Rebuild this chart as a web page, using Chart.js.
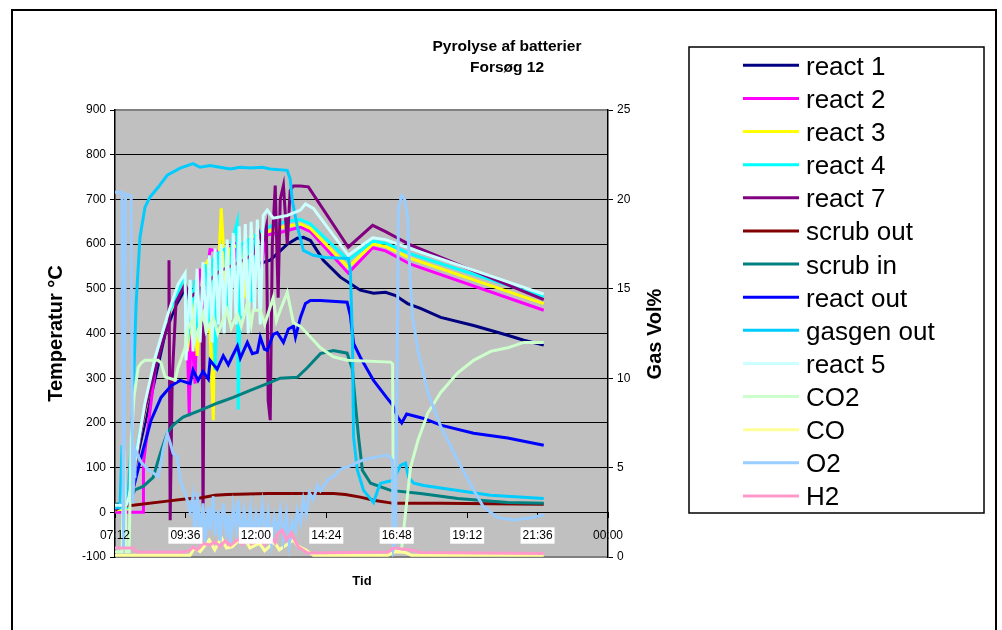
<!DOCTYPE html>
<html>
<head>
<meta charset="utf-8">
<script src="https://cdn.jsdelivr.net/npm/chart.js@4.4.1/dist/chart.umd.min.js"></script>
<style>
  html, body { margin: 0; padding: 0; background: #fff; }
</style>
</head>
<body>
<canvas id="chart" width="1002" height="630"></canvas>
<script>
// time in hours of the day (7.2 = 07:12), temperatures in °C, gases in vol%
const tidTicks = [7.2, 9.6, 12, 14.4, 16.8, 19.2, 21.6, 24];
const tidLabels = ['07:12', '09:36', '12:00', '14:24', '16:48', '19:12', '21:36', '00:00'];

const react1 = [[7.2,15],[7.61,20],[7.81,80],[8.22,200],[8.57,300],[8.91,400],[9.25,460],[9.59,500],[9.76,470],[10.1,510],[10.2,519],[10.44,500],[10.61,440],[10.78,530],[11.02,526],[11.3,540],[11.71,548],[11.81,500],[11.98,545],[12.15,557],[12.49,564],[12.83,585],[13.07,600],[13.41,613],[13.62,615],[13.86,608],[14.3,564],[14.88,526],[15.56,497],[16.01,490],[16.42,492],[16.76,485],[17.17,467],[17.61,456],[18.3,436],[19.42,418],[20.58,396],[21.13,385],[21.81,374]];
const react2 = [[7.2,0],[8.16,0],[8.17,110],[8.57,320],[8.98,430],[9.59,525],[9.66,400],[9.73,215],[9.79,420],[9.93,288],[10.0,480],[10.1,545],[10.27,420],[10.38,560],[10.44,588],[10.85,582],[10.92,450],[11.06,590],[11.3,600],[11.47,480],[11.64,605],[11.98,615],[12.15,520],[12.32,620],[12.83,626],[13.52,638],[13.86,628],[15.15,535],[15.98,592],[16.42,585],[17.27,555],[21.81,452]];
const react3 = [[7.2,5],[7.64,8],[8.05,170],[8.57,335],[9.0,435],[9.59,528],[9.66,360],[9.86,470],[10.0,350],[10.2,545],[10.34,560],[10.44,400],[10.55,206],[10.61,560],[10.75,580],[10.82,680],[10.89,600],[10.99,450],[11.13,590],[11.47,600],[11.64,480],[11.81,615],[12.15,620],[12.49,630],[13.0,640],[13.52,645],[13.86,635],[15.15,548],[15.98,600],[16.42,595],[17.27,568],[21.81,467]];
const react4 = [[7.2,10],[7.61,10],[8.05,180],[8.57,340],[9.01,440],[9.59,530],[9.66,380],[9.93,520],[10.03,400],[10.27,555],[10.44,420],[10.55,570],[10.61,318],[10.72,580],[10.96,590],[11.06,450],[11.19,604],[11.37,650],[11.4,230],[11.5,600],[11.74,610],[11.84,470],[11.98,620],[12.22,630],[12.49,640],[13.0,650],[13.52,655],[13.86,645],[15.15,564],[15.98,607],[16.42,602],[17.27,578],[21.81,482]];
const react7 = [[7.2,5],[7.61,20],[7.81,80],[8.22,230],[8.57,320],[8.91,400],[9.01,420],[9.04,564],[9.08,-18],[9.15,300],[9.28,470],[9.59,510],[9.76,480],[10.1,500],[10.17,445],[10.2,-18],[10.24,430],[10.44,520],[10.78,540],[11.47,560],[11.98,580],[12.08,631],[12.22,600],[12.36,640],[12.42,250],[12.49,206],[12.56,600],[12.66,731],[12.76,480],[12.83,700],[12.94,731],[13.07,600],[13.17,720],[13.28,730],[13.52,730],[13.79,728],[15.15,593],[15.98,642],[16.42,628],[17.27,598],[21.81,476]];
const scrubOut = [[7.2,12],[7.81,16],[8.98,25],[9.59,30],[10.1,32],[10.61,38],[11.02,40],[12.39,42],[13.52,42],[14.64,42],[15.05,40],[15.56,34],[16.01,27],[16.69,20],[18.3,20],[21.81,18]];
const scrubIn = [[7.2,18],[7.64,20],[7.88,50],[8.16,58],[8.5,78],[8.67,116],[8.81,145],[8.98,177],[9.18,195],[9.52,213],[10.1,228],[10.68,244],[11.23,257],[11.81,273],[12.39,288],[12.83,300],[13.41,302],[13.76,324],[14.2,355],[14.64,362],[15.11,356],[15.29,320],[15.39,244],[15.5,168],[15.63,94],[15.91,65],[16.59,49],[17.61,42],[18.88,31],[20.58,22],[21.81,20]];
const reactOut = [[7.2,15],[7.64,20],[7.81,50],[8.09,123],[8.43,206],[8.77,257],[9.11,283],[9.42,295],[9.76,288],[9.86,318],[10.03,295],[10.2,315],[10.38,298],[10.44,340],[10.68,320],[10.89,350],[11.06,330],[11.19,348],[11.37,372],[11.47,345],[11.71,380],[11.88,355],[12.05,358],[12.15,392],[12.29,365],[12.39,362],[12.59,398],[12.73,402],[12.94,380],[13.11,410],[13.28,416],[13.35,392],[13.52,436],[13.69,467],[13.86,474],[14.2,474],[15.11,470],[15.22,440],[15.33,378],[15.56,347],[16.01,295],[16.42,260],[16.66,240],[16.83,213],[16.97,200],[17.14,220],[17.72,210],[18.3,195],[19.42,177],[20.58,166],[21.81,150]];
const gasgenOut = [[7.2,10],[7.37,10],[7.44,150],[7.51,20],[7.64,30],[7.75,150],[7.81,244],[7.92,467],[8.05,615],[8.22,682],[8.39,705],[8.67,727],[8.98,754],[9.42,770],[9.86,780],[10.1,772],[10.44,776],[10.78,772],[11.13,768],[11.47,772],[11.81,770],[12.22,772],[12.49,768],[13.07,765],[13.17,745],[13.24,698],[13.41,640],[13.62,586],[13.96,575],[14.37,570],[15.15,568],[15.22,541],[15.29,391],[15.33,168],[15.46,94],[15.67,49],[16.01,22],[16.15,49],[16.25,65],[16.69,72],[16.93,105],[17.1,110],[17.21,78],[17.38,65],[17.72,60],[18.88,49],[20.0,38],[21.81,31]];
const react5 = [[7.2,16],[7.58,16],[7.68,35],[7.88,110],[8.22,244],[8.57,347],[9.01,445],[9.35,510],[9.59,535],[9.62,340],[9.76,520],[9.86,360],[10.0,545],[10.1,380],[10.2,560],[10.31,400],[10.41,575],[10.51,380],[10.61,590],[10.72,420],[10.82,600],[10.92,400],[11.02,610],[11.13,430],[11.23,625],[11.33,420],[11.43,640],[11.54,440],[11.64,645],[11.74,400],[11.84,650],[11.95,450],[12.05,655],[12.15,420],[12.25,664],[12.39,676],[12.59,658],[13.07,664],[13.52,676],[13.69,690],[13.96,680],[15.15,575],[15.98,614],[16.42,610],[17.27,590],[21.81,488]];
const co2 = [[7.2,0.3],[7.44,0.3],[7.51,6.0],[7.58,0.3],[7.68,0.3],[7.75,6.5],[7.85,9.0],[7.99,10.6],[8.09,10.85],[8.22,11.0],[8.67,11.0],[8.77,10.85],[8.91,10.07],[9.25,9.9],[9.35,10.6],[9.59,11.7],[9.66,12.7],[9.86,13.3],[9.95,12.2],[10.2,13.6],[10.31,12.6],[10.55,13.4],[10.7,12.5],[11.02,13.8],[11.16,12.8],[11.37,13.6],[11.5,12.9],[11.71,14.2],[11.84,13.0],[11.91,13.8],[12.15,13.8],[12.3,13.0],[12.59,14.5],[12.7,13.2],[12.83,13.8],[13.07,14.8],[13.28,13.1],[13.52,12.9],[13.86,12.3],[14.2,11.7],[14.64,11.2],[15.11,11.0],[16.59,10.9],[16.66,10.8],[16.69,0.5],[16.83,0.3],[16.97,0.5],[17.07,2.0],[17.17,3.5],[17.27,5.0],[17.52,6.5],[17.86,8.05],[18.3,9.2],[18.88,10.3],[19.42,11.0],[20.0,11.5],[20.58,11.7],[21.13,12.0],[21.81,12.0]];
const co = [[7.2,0.1],[9.76,0.1],[9.9,0.5],[10.1,0.3],[10.41,0.95],[10.6,0.4],[10.82,1.1],[11.0,0.5],[11.19,0.56],[11.4,0.9],[11.6,1.06],[11.8,0.5],[12.12,0.78],[12.3,0.35],[12.63,0.84],[12.8,0.4],[13.28,0.95],[13.45,0.6],[13.69,0.4],[13.96,0.1],[16.5,0.1],[16.76,0.3],[17.1,0.25],[17.3,0.1],[21.81,0.1]];
const o2 = [[7.2,20.4],[7.44,20.4],[7.49,0.5],[7.56,20.3],[7.75,20.2],[7.8,3.0],[7.85,4.5],[7.88,6.0],[8.09,5.3],[8.33,4.9],[8.5,4.7],[8.67,4.5],[8.77,5.3],[8.84,6.0],[8.98,6.9],[9.08,6.4],[9.18,5.8],[9.32,5.6],[9.42,4.3],[9.66,3.2],[9.76,2.5],[9.86,3.4],[9.93,1.0],[10.0,3.6],[10.1,1.5],[10.2,3.0],[10.27,0.8],[10.38,2.8],[10.44,1.5],[10.55,3.4],[10.61,1.2],[10.72,2.6],[10.78,0.9],[10.89,3.0],[10.99,1.4],[11.06,2.4],[11.13,0.8],[11.23,2.8],[11.33,1.6],[11.4,3.2],[11.5,1.0],[11.6,2.6],[11.71,1.3],[11.81,2.7],[11.91,0.9],[12.01,2.4],[12.12,1.5],[12.22,2.9],[12.32,1.2],[12.42,2.5],[12.53,0.8],[12.63,2.2],[12.73,1.3],[12.83,2.6],[12.94,1.0],[13.04,2.4],[13.14,0.7],[13.24,2.0],[13.35,1.5],[13.41,2.6],[13.52,1.9],[13.62,3.2],[13.72,2.4],[13.82,3.6],[13.96,3.2],[14.1,4.0],[14.2,3.7],[14.44,4.3],[14.64,4.5],[14.88,4.9],[15.22,5.1],[15.46,5.3],[15.8,5.5],[16.15,5.6],[16.49,5.7],[16.66,5.4],[16.69,0.5],[16.76,1.0],[16.86,19.5],[16.97,20.2],[17.07,20.0],[17.17,19.0],[17.21,17.2],[17.27,15.3],[17.34,13.4],[17.52,11.6],[17.86,9.2],[18.3,7.3],[18.88,5.4],[19.42,3.75],[19.76,2.8],[20.24,2.2],[20.79,2.07],[21.37,2.2],[21.81,2.35]];
const h2 = [[7.2,0.5],[7.81,0.5],[7.95,0.28],[9.59,0.28],[9.76,0.39],[9.86,0.56],[10.0,0.4],[10.2,0.75],[10.44,0.67],[10.6,0.85],[10.78,0.6],[10.96,0.9],[11.13,0.65],[11.23,0.78],[11.4,1.0],[11.55,0.7],[11.7,1.05],[11.85,0.75],[12.15,0.95],[12.3,0.7],[12.5,1.12],[12.66,0.8],[12.76,1.34],[12.9,1.5],[13.04,0.95],[13.2,1.34],[13.45,0.56],[13.76,0.22],[16.5,0.28],[16.69,0.5],[17.3,0.39],[17.6,0.25],[21.81,0.2]];

// name, data, colour, axis
const series = [
  ['react 1', react1, '#000080', 'y'],
  ['react 2', react2, '#ff00ff', 'y'],
  ['react 3', react3, '#ffff00', 'y'],
  ['react 4', react4, '#00ffff', 'y'],
  ['react 7', react7, '#800080', 'y'],
  ['scrub out', scrubOut, '#800000', 'y'],
  ['scrub in', scrubIn, '#008080', 'y'],
  ['react out', reactOut, '#0000ff', 'y'],
  ['gasgen out', gasgenOut, '#00ccff', 'y'],
  ['react 5', react5, '#ccffff', 'y'],
  ['CO2', co2, '#ccffcc', 'y1'],
  ['CO', co, '#ffff99', 'y1'],
  ['O2', o2, '#99ccff', 'y1'],
  ['H2', h2, '#ff99cc', 'y1']
];

const FONT = "'Liberation Sans', Arial, sans-serif";

const datasets = series.map((s, i) => ({
  label: s[0],
  data: s[1].map(p => ({ x: p[0], y: p[1] })),
  borderColor: s[2],
  backgroundColor: s[2],
  borderWidth: 3,
  pointRadius: 0,
  tension: 0,
  fill: false,
  yAxisID: s[3],
  order: -i   // later series on top, like Excel
}));

const excelFrame = {
  id: 'excelFrame',
  beforeDraw(chart) {
    const { ctx, chartArea: a } = chart;
    ctx.save();
    ctx.fillStyle = '#c0c0c0';
    ctx.fillRect(a.left, a.top, a.right - a.left, a.bottom - a.top);
    ctx.strokeStyle = '#808080';
    ctx.lineWidth = 2;
    ctx.beginPath();
    ctx.moveTo(a.left, a.top); ctx.lineTo(a.right, a.top);
    ctx.moveTo(a.left, a.bottom); ctx.lineTo(a.right, a.bottom);
    ctx.stroke();
    ctx.restore();
  },
  afterDraw(chart) {
    const { ctx } = chart;
    ctx.save();
    // outer border
    ctx.strokeStyle = '#000';
    ctx.lineWidth = 2;
    ctx.strokeRect(12, 10, 984, 640);

    // title
    ctx.fillStyle = '#000';
    ctx.textAlign = 'center';
    ctx.textBaseline = 'middle';
    ctx.font = 'bold 15.5px ' + FONT;
    ctx.fillText('Pyrolyse af batterier', 507, 47);
    ctx.fillText('Forsøg 12', 507, 68);

    // x title
    ctx.font = 'bold 13px ' + FONT;
    ctx.fillText('Tid', 362, 581);

    // right axis title (reads bottom to top)
    ctx.save();
    ctx.translate(655, 334);
    ctx.rotate(-Math.PI / 2);
    ctx.font = 'bold 20px ' + FONT;
    ctx.fillText('Gas Vol%', 0, 0);
    ctx.restore();

    // legend box
    ctx.lineWidth = 1.5;
    ctx.strokeRect(689, 47, 295, 466);
    ctx.textAlign = 'left';
    ctx.textBaseline = 'alphabetic';
    ctx.font = '26px ' + FONT;
    chart.data.datasets.forEach((ds, i) => {
      const y = 65.3 + i * 33.13;
      ctx.strokeStyle = ds.borderColor;
      ctx.lineWidth = 3;
      ctx.beginPath();
      ctx.moveTo(743, y);
      ctx.lineTo(799, y);
      ctx.stroke();
      ctx.fillStyle = '#000';
      ctx.fillText(ds.label, 806, y + 9.5);
    });
    ctx.restore();
  }
};

new Chart(document.getElementById('chart'), {
  type: 'line',
  data: { datasets },
  plugins: [excelFrame],
  options: {
    responsive: false,
    animation: false,
    events: [],
    layout: { padding: { top: 110, bottom: 73, left: 0, right: 0 } },
    plugins: { legend: { display: false }, tooltip: { enabled: false } },
    scales: {
      x: {
        type: 'linear',
        min: 7.2,
        max: 24,
        position: { y: 0 },
        afterBuildTicks: s => { s.ticks = tidTicks.map(v => ({ value: v })); },
        ticks: {
          callback: (v, i) => tidLabels[i],
          autoSkip: false,
          maxRotation: 0,
          color: '#000',
          font: { family: FONT, size: 12 },
          padding: 11,
          showLabelBackdrop: true,
          backdropColor: c => (c.index === 0 || c.index === tidTicks.length - 1) ? 'rgba(0,0,0,0)' : '#ffffff',
          backdropPadding: { top: 1, bottom: 1, left: 2, right: 2 },
          z: 1
        },
        grid: { drawOnChartArea: false, drawTicks: true, tickLength: 5, color: '#000' },
        border: { color: '#000', width: 1 }
      },
      y: {
        type: 'linear',
        position: 'left',
        min: -100,
        max: 900,
        afterFit: s => { s.width = 115; },
        ticks: { stepSize: 100, color: '#000', font: { family: FONT, size: 12 }, padding: 4 },
        grid: {
          color: c => (c.tick.value === 900 || c.tick.value === -100) ? 'rgba(0,0,0,0)' : '#000',
          tickColor: '#000',
          tickLength: 5,
          lineWidth: 1
        },
        border: { color: '#000', width: 1.5 },
        title: {
          display: true,
          text: 'Temperatur °C',
          color: '#000',
          font: { family: FONT, size: 20, weight: 'bold' },
          padding: { top: 44, bottom: 0 }
        }
      },
      y1: {
        type: 'linear',
        position: 'right',
        min: 0,
        max: 25,
        afterFit: s => { s.width = 394; },
        ticks: { stepSize: 5, color: '#000', font: { family: FONT, size: 12 }, padding: 4 },
        grid: { drawOnChartArea: false, tickColor: '#000', tickLength: 5 },
        border: { color: '#000', width: 1.5 }
      }
    }
  }
});
</script>
</body>
</html>
